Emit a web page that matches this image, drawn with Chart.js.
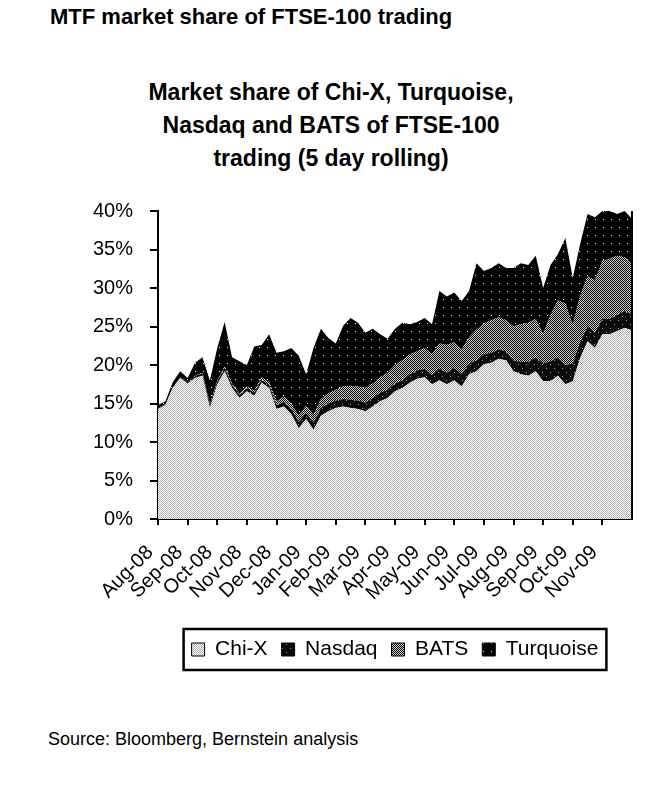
<!DOCTYPE html>
<html>
<head>
<meta charset="utf-8">
<script src="https://cdn.jsdelivr.net/npm/chart.js@4.4.1/dist/chart.umd.min.js"></script>
<style>
  html, body { margin: 0; padding: 0; background: #fff; }
  body { width: 670px; height: 800px; position: relative; overflow: hidden; font-family: "Liberation Sans", Arial, sans-serif; color: #000; }
  #header { position: absolute; left: 50px; top: 6px; font-size: 22px; font-weight: bold; line-height: 22px; white-space: nowrap; }
  #title { position: absolute; left: 0; width: 662px; top: 76px; text-align: center; font-size: 23px; font-weight: bold; line-height: 33px; }
  #source { position: absolute; left: 48px; top: 729px; font-size: 18px; line-height: 20px; white-space: nowrap; }
  #wrap { position: absolute; left: 0; top: 182px; width: 670px; height: 498px; }
</style>
</head>
<body>
<div id="header">MTF market share of FTSE-100 trading</div>
<div id="title">Market share of Chi-X, Turquoise,<br>Nasdaq and BATS of FTSE-100<br>trading (5 day rolling)</div>
<div id="wrap"><canvas id="mtfChart" width="670" height="498"></canvas></div>
<div id="source">Source: Bloomberg, Bernstein analysis</div>

<script>
// month tick labels (one tick per month, starting Aug-08)
const months = ['Aug-08', 'Sep-08', 'Oct-08', 'Nov-08', 'Dec-08', 'Jan-09', 'Feb-09', 'Mar-09',
    'Apr-09', 'May-09', 'Jun-09', 'Jul-09', 'Aug-09', 'Sep-09', 'Oct-09', 'Nov-09'];

// readings roughly once a week (a quarter of a month apart), % of FTSE-100 trading
const WEEK = 0.25;

const chiX = [14.3, 14.8, 17.0, 18.3, 17.6, 18.3, 18.6, 14.4, 17.5, 19.2, 17.0, 15.7, 16.6, 16.0, 17.7, 17.0,
    14.3, 14.6, 13.6, 11.8, 13.0, 11.6, 13.4, 14.0, 14.4, 14.6, 14.4, 14.3, 14.0, 14.6, 15.3, 15.7,
    16.6, 17.0, 17.7, 18.2, 18.4, 17.5, 18.0, 17.5, 18.0, 17.2, 18.8, 19.2, 20.1, 20.3, 20.8, 20.6,
    19.2, 18.8, 18.6, 19.2, 17.9, 17.9, 18.6, 17.5, 17.9, 20.9, 23.1, 22.2, 24.0, 24.0, 24.4, 24.8, 24.5];

const nasdaq = [0.1, 0.1, 0.1, 0.1, 0.2, 0.3, 0.3, 0.4, 0.4, 0.4, 0.4, 0.4, 0.4, 0.4, 0.4, 0.4,
    0.5, 0.6, 0.7, 0.8, 0.8, 0.9, 1.0, 1.0, 1.0, 1.0, 1.1, 1.1, 1.1, 1.1, 1.1, 1.1,
    1.0, 1.0, 1.1, 1.1, 1.1, 1.2, 1.5, 1.5, 1.6, 1.6, 1.4, 1.4, 1.3, 1.3, 1.2, 1.2,
    1.4, 1.6, 1.8, 1.8, 2.3, 2.6, 2.4, 2.5, 2.3, 2.1, 1.9, 2.0, 2.0, 2.0, 2.1, 2.2, 2.1];

const bats = [0.0, 0.0, 0.0, 0.0, 0.0, 0.0, 0.1, 0.1, 0.1, 0.2, 0.2, 0.2, 0.2, 0.3, 0.3, 0.4,
    0.5, 0.7, 0.7, 0.8, 0.9, 1.0, 1.2, 1.3, 1.4, 1.6, 1.8, 1.8, 1.9, 1.9, 2.0, 2.2,
    2.4, 2.6, 2.6, 2.5, 2.7, 2.7, 3.3, 3.6, 3.4, 3.2, 3.4, 4.0, 4.0, 4.2, 4.2, 4.0,
    4.4, 4.9, 5.1, 5.0, 3.8, 6.0, 7.4, 8.0, 5.0, 6.0, 6.5, 6.8, 7.5, 7.8, 7.7, 7.0, 6.6];

const turquoise = [0.4, 0.4, 0.7, 0.8, 0.5, 1.7, 2.0, 3.1, 4.2, 5.8, 3.4, 4.2, 2.8, 5.7, 4.2, 6.2,
    6.3, 5.9, 7.2, 7.8, 4.1, 8.7, 9.1, 7.2, 6.0, 7.9, 8.8, 8.3, 7.2, 7.1, 5.6, 4.4,
    4.7, 4.9, 3.9, 3.8, 3.9, 3.9, 6.8, 6.3, 6.4, 6.3, 6.0, 8.6, 6.8, 6.8, 7.0, 6.8,
    7.6, 7.9, 7.5, 8.2, 6.0, 6.5, 6.0, 8.5, 6.1, 6.7, 8.1, 8.2, 6.5, 6.2, 5.4, 6.0, 5.8];

const yTicks = [0, 5, 10, 15, 20, 25, 30, 35, 40];

// scanned-print style fills
function dotPattern(size, bg, fg, dots) {
    const c = document.createElement('canvas');
    c.width = size; c.height = size;
    const g = c.getContext('2d');
    g.fillStyle = bg;
    g.fillRect(0, 0, size, size);
    g.fillStyle = fg;
    dots.forEach(d => g.fillRect(d[0], d[1], 1, 1));
    return g.createPattern(c, 'repeat');
}
const ctx = document.getElementById('mtfChart').getContext('2d');
const fillChiX = dotPattern(2, '#ffffff', '#b0b0b0', [[0, 0], [1, 1]]);
const fillNasdaq = dotPattern(8, '#0a0a0a', '#9a9a9a', [[2, 2], [6, 6]]);
const fillBats = dotPattern(2, '#cfcfcf', '#000000', [[0, 0], [1, 1]]);
const fillTurq = dotPattern(8, '#000000', '#ffffff', [[3, 5]]);

const toPoints = arr => arr.map((v, i) => ({ x: i * WEEK, y: v }));

function layer(label, values, fillStyle, fillTo) {
    return {
        label: label,
        data: toPoints(values),
        backgroundColor: fillStyle,
        borderColor: 'rgba(0,0,0,0)',
        borderWidth: 0,
        pointRadius: 0,
        tension: 0,
        fill: fillTo
    };
}

// box round the legend and right edge of the plot
const frame = {
    id: 'frame',
    afterDraw(chart) {
        const c = chart.ctx, a = chart.chartArea;
        c.save();
        c.strokeStyle = '#000';
        c.lineWidth = 2;
        c.beginPath();
        c.moveTo(a.right, a.top);
        c.lineTo(a.right, a.bottom);
        c.stroke();
        const boxes = chart.legend.legendHitBoxes;
        if (boxes && boxes.length) {
            const l = Math.min(...boxes.map(b => b.left)) - 8;
            const r = Math.max(...boxes.map(b => b.left + b.width)) + 8;
            const t = Math.min(...boxes.map(b => b.top)) - 10;
            const bt = Math.max(...boxes.map(b => b.top + b.height)) + 10;
            c.lineWidth = 2.5;
            c.strokeRect(l, t, r - l, bt - t);
        }
        c.restore();
    }
};

new Chart(ctx, {
    type: 'line',
    data: {
        datasets: [
            layer('Chi-X', chiX, fillChiX, 'origin'),
            layer('Nasdaq', nasdaq, fillNasdaq, '-1'),
            layer('BATS', bats, fillBats, '-1'),
            layer('Turquoise', turquoise, fillTurq, '-1')
        ]
    },
    options: {
        responsive: false,
        animation: false,
        devicePixelRatio: 1,
        layout: { padding: { top: 12, right: 38, left: 0, bottom: 10 } },
        scales: {
            x: {
                type: 'linear',
                min: 0,
                max: months.length,
                afterFit: s => { s.height = 106; },
                afterBuildTicks: s => { s.ticks = s.ticks.filter(t => t.value < months.length); },
                border: { display: true, color: '#000', width: 2 },
                grid: { display: true, drawOnChartArea: false, drawTicks: true, tickLength: 6, color: '#000', lineWidth: 2 },
                ticks: {
                    stepSize: 1,
                    autoSkip: false,
                    minRotation: 45,
                    maxRotation: 45,
                    padding: 8,
                    color: '#000',
                    font: { family: '"Liberation Sans", Arial, sans-serif', size: 20 },
                    // trailing spaces push the slanted label down-left of its tick, as in the print
                    callback: v => months[v] ? months[v] + '  ' : ''
                }
            },
            y: {
                stacked: true,
                min: yTicks[0],
                max: yTicks[yTicks.length - 1],
                afterFit: s => { s.width = 158; },
                afterBuildTicks: s => { s.ticks = yTicks.map(v => ({ value: v })); },
                border: { display: true, color: '#000', width: 2 },
                grid: { display: true, drawOnChartArea: false, drawTicks: true, tickLength: 8, color: '#000', lineWidth: 2 },
                ticks: {
                    padding: 17,
                    color: '#000',
                    font: { family: '"Liberation Sans", Arial, sans-serif', size: 20 },
                    callback: v => v + '%'
                }
            }
        },
        plugins: {
            title: { display: false },
            tooltip: { enabled: false },
            legend: {
                position: 'bottom',
                fullSize: false,
                labels: {
                    color: '#000',
                    boxWidth: 13,
                    boxHeight: 13,
                    padding: 14,
                    font: { family: '"Liberation Sans", Arial, sans-serif', size: 21 },
                    generateLabels: chart => Chart.defaults.plugins.legend.labels.generateLabels(chart)
                        .map(item => Object.assign(item, { strokeStyle: '#000', lineWidth: 1 }))
                }
            }
        }
    },
    plugins: [frame]
});
</script>
</body>
</html>
